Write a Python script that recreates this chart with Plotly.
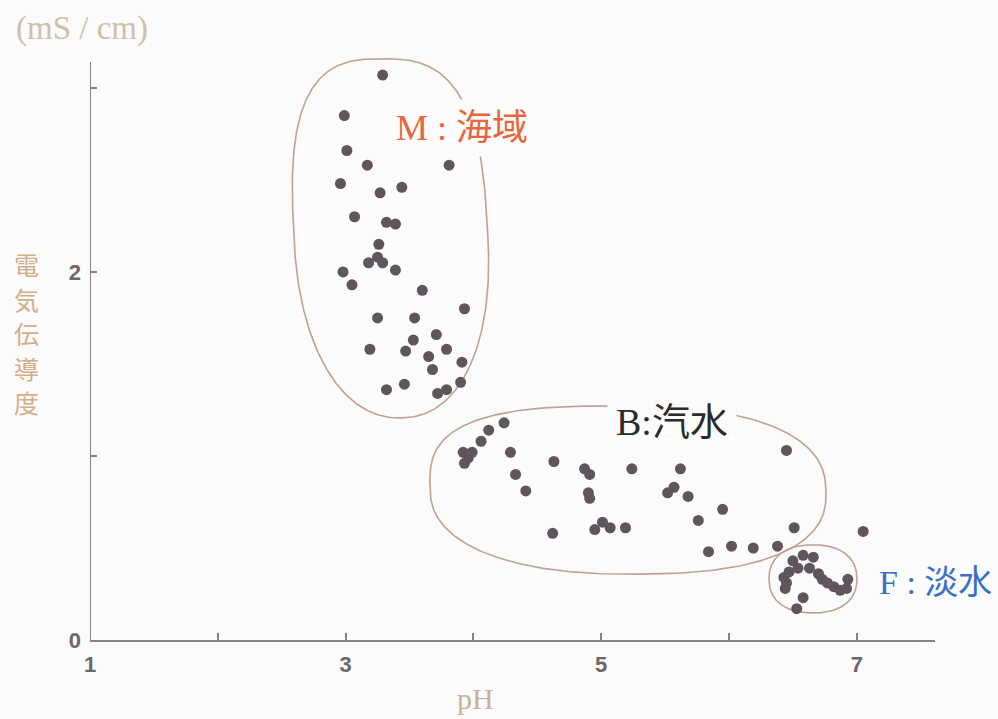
import numpy as np
import plotly.graph_objects as go

# --- measured samples: pH and electrical conductivity (mS/cm) ---
# M: sea area
m_ph = [3.29, 2.99, 3.01, 3.17, 3.81, 2.96, 3.27, 3.44, 3.07, 3.32, 3.39, 3.26,
        3.18, 3.25, 3.29, 3.39, 2.98, 3.05, 3.60, 3.93, 3.25, 3.54, 3.71, 3.53,
        3.19, 3.47, 3.79, 3.65, 3.91, 3.68, 3.90, 3.46, 3.32, 3.72, 3.79]
m_ec = [3.07, 2.85, 2.66, 2.58, 2.58, 2.48, 2.43, 2.46, 2.30, 2.27, 2.26, 2.15,
        2.05, 2.08, 2.05, 2.01, 2.00, 1.93, 1.90, 1.80, 1.75, 1.75, 1.66, 1.63,
        1.58, 1.57, 1.58, 1.54, 1.51, 1.47, 1.40, 1.39, 1.36, 1.34, 1.36]

# B: brackish water
b_ph = [3.92, 3.96, 3.93, 3.99, 4.06, 4.12, 4.24, 4.29, 4.33, 4.41, 4.63, 4.62,
        4.87, 4.91, 4.90, 4.91, 4.95, 5.01, 5.07, 5.19, 5.24, 5.52, 5.57, 5.62,
        5.68, 5.95, 5.76, 6.45, 6.51, 7.05, 5.84, 6.02, 6.19, 6.38]
b_ec = [1.02, 0.99, 0.96, 1.02, 1.08, 1.14, 1.18, 1.02, 0.90, 0.81, 0.97, 0.58,
        0.93, 0.90, 0.80, 0.77, 0.60, 0.64, 0.61, 0.61, 0.93, 0.80, 0.83, 0.93,
        0.78, 0.71, 0.65, 1.03, 0.61, 0.59, 0.48, 0.51, 0.50, 0.51]

# F: fresh water
f_ph = [6.50, 6.58, 6.66, 6.54, 6.63, 6.47, 6.43, 6.70, 6.73, 6.44, 6.77, 6.82,
        6.93, 6.92, 6.87, 6.58, 6.53, 6.45]
f_ec = [0.43, 0.46, 0.45, 0.39, 0.39, 0.37, 0.34, 0.36, 0.33, 0.28, 0.31, 0.29,
        0.33, 0.28, 0.27, 0.23, 0.17, 0.31]

# axis ticks and labels
x_tickvals = [1, 2, 3, 4, 5, 6, 7]
x_ticktext = ["1", "", "3", "", "5", "", "7"]
y_tickvals = [0, 1, 2, 3]
y_ticktext = ["0", "", "2", ""]
Y_AXIS_TOP = 3.141
y_title_chars = ["電", "気", "伝", "導", "度"]

# --- layout geometry ---
W, H = 998, 719
ML, MR, MT, MB = 90, 63, 48, 79
X_RANGE = [1, 7.612]
Y_RANGE = [0, 3.217]
PW, PH = W - ML - MR, H - MT - MB
PX_X = PW / (X_RANGE[1] - X_RANGE[0])
PX_Y = PH / (Y_RANGE[1] - Y_RANGE[0])


def paper_xy(px, py):
    """Pixel position on the page -> paper coordinates."""
    return (px - ML) / PW, (H - MB - py) / PH


def group_outline(cx, cy, a, bt, bb, n_quad, skew, n=360):
    """Closed rounded outline around a group.

    n_quad gives the superellipse exponent for the quadrants
    (top-right, top-left, bottom-left, bottom-right); skew shifts the
    outline sideways in proportion to height (top left, bottom right).
    """
    t = np.linspace(0, 2 * np.pi, n)
    c, s = np.cos(t), np.sin(t)
    q = np.where(s >= 0, np.where(c >= 0, 0, 1), np.where(c < 0, 2, 3))
    ex_n = np.asarray(n_quad, dtype=float)[q]
    ex = np.sign(c) * np.abs(c) ** (2 / ex_n)
    ey = np.sign(s) * np.abs(s) ** (2 / ex_n)
    dx = a * PX_X * ex
    dy = np.where(s >= 0, bt, bb) * PX_Y * ey
    dx = dx - skew * dy
    return cx + dx / PX_X, cy + dy / PX_Y


outlines = [
    group_outline(3.355, 2.185, 0.759, 0.973, 0.978, (2.9, 2.9, 2.2, 2.2), 0.05),
    group_outline(5.21, 0.815, 1.549, 0.457, 0.457, (2.4, 3.0, 2.3, 2.5), 0.03),
    group_outline(6.657, 0.332, 0.344, 0.185, 0.185, (2.3, 2.3, 2.3, 2.3), 0.0),
]

fig = go.Figure()

for ox, oy in outlines:
    fig.add_trace(go.Scatter(
        x=ox, y=oy, mode="lines",
        line=dict(color="#bfa293", width=1.6),
        hoverinfo="skip", showlegend=False,
    ))

dot = dict(color="#5e565c", size=11, line=dict(width=0))
for name, xs, ys in [("M", m_ph, m_ec), ("B", b_ph, b_ec), ("F", f_ph, f_ec)]:
    fig.add_trace(go.Scatter(
        x=xs, y=ys, mode="markers", name=name,
        marker=dot, showlegend=False, cliponaxis=False,
    ))

BG = "#fbfbfb"
AXIS_COLOR = "#8c817c"
label_font = "Liberation Serif, Noto Sans CJK JP"

fig.add_annotation(x=3.324, y=2.78, xref="x", yref="y", xanchor="left",
                   text="M : 海域", showarrow=False, bgcolor=BG, borderpad=8,
                   font=dict(family=label_font, size=36, color="#e8663e"))
fig.add_annotation(x=5.045, y=1.185, xref="x", yref="y", xanchor="left",
                   text="B:汽水", showarrow=False, bgcolor=BG, borderpad=8,
                   font=dict(family=label_font, size=38, color="#2b2b2b"))
fig.add_annotation(x=7.158, y=0.31, xref="x", yref="y", xanchor="left",
                   text="F : 淡水", showarrow=False,
                   font=dict(family=label_font, size=34, color="#3a6fc9"))

# unit label above the vertical axis
ux, uy = paper_xy(82, 28)
fig.add_annotation(x=ux, y=uy, xref="paper", yref="paper", xanchor="center",
                   yanchor="middle", text="(mS\u00a0/\u00a0cm)", showarrow=False,
                   font=dict(family="Liberation Serif", size=33, color="#cfbfab"))

# vertical axis title, one character per row
for i, ch in enumerate(y_title_chars):
    cx, cy = paper_xy(26, 264 + 34.5 * i)
    fig.add_annotation(x=cx, y=cy, xref="paper", yref="paper", xanchor="center",
                       yanchor="middle", text=ch, showarrow=False,
                       font=dict(family="Noto Sans CJK JP", size=25, color="#d3ad88"))

# horizontal axis title
px_, py_ = paper_xy(475, 698)
fig.add_annotation(x=px_, y=py_, xref="paper", yref="paper", xanchor="center",
                   yanchor="middle", text="pH", showarrow=False,
                   font=dict(family="Liberation Serif", size=30, color="#cdb09a"))

# vertical axis line, ending just above the top tick
fig.add_shape(type="line", xref="x", yref="y", x0=1, x1=1, y0=0, y1=Y_AXIS_TOP,
              line=dict(color=AXIS_COLOR, width=2))

tick_font = dict(family="Liberation Sans", size=22, color="#6d6868", weight="bold")
fig.update_layout(
    width=W, height=H,
    margin=dict(l=ML, r=MR, t=MT, b=MB),
    paper_bgcolor=BG, plot_bgcolor=BG,
    xaxis=dict(range=X_RANGE, tickvals=x_tickvals, ticktext=x_ticktext,
               showline=True, linecolor=AXIS_COLOR, linewidth=2,
               ticks="inside", ticklen=7, tickwidth=1.5, tickcolor=AXIS_COLOR,
               showgrid=False, zeroline=False, fixedrange=True,
               tickfont=tick_font, ticklabelstandoff=4),
    yaxis=dict(range=Y_RANGE, tickvals=y_tickvals, ticktext=y_ticktext,
               showline=False,
               ticks="inside", ticklen=7, tickwidth=1.5, tickcolor=AXIS_COLOR,
               showgrid=False, zeroline=False, fixedrange=True,
               tickfont=tick_font, ticklabelstandoff=8),
)

fig.write_html("out.html")
